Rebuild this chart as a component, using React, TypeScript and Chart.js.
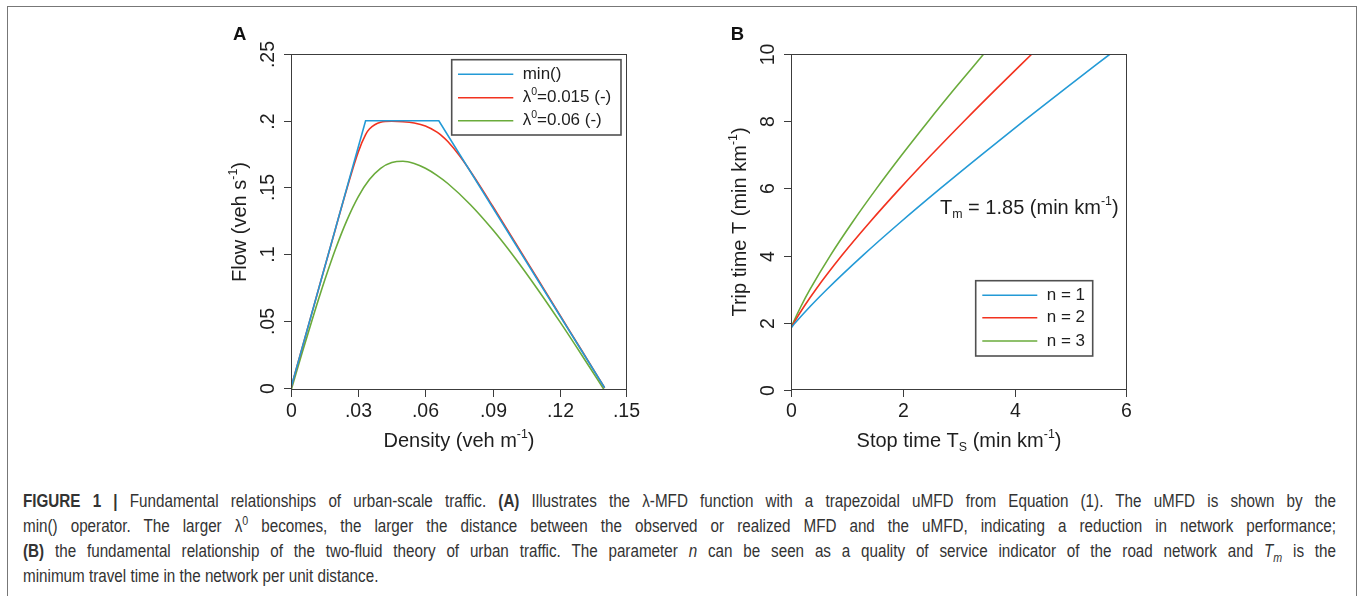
import React, { useEffect, useRef } from 'react';
import { Chart, registerables } from 'chart.js';

Chart.register(...registerables);

// ---------- Panel A data ----------
const densityMin = [0, 0.0333, 0.066, 0.14];
const flowMin = [0, 0.2, 0.2, 0];

const densityLam015 = [0, 0.005, 0.01, 0.015, 0.02, 0.025, 0.03, 0.0333, 0.035, 0.04, 0.045, 0.05, 0.055, 0.06, 0.065, 0.0667, 0.07, 0.075, 0.08, 0.085, 0.09, 0.1, 0.11, 0.12, 0.13, 0.14];
const flowLam015 = [0, 0.03, 0.06, 0.09, 0.1199, 0.1495, 0.1765, 0.1896, 0.1938, 0.1989, 0.1996, 0.1993, 0.1983, 0.1961, 0.1917, 0.1896, 0.1844, 0.1743, 0.1624, 0.1495, 0.1361, 0.1091, 0.0818, 0.0545, 0.0273, 0];

const densityLam06 = [0, 0.005, 0.01, 0.015, 0.02, 0.025, 0.03, 0.035, 0.04, 0.045, 0.05, 0.055, 0.06, 0.065, 0.07, 0.08, 0.09, 0.1, 0.11, 0.12, 0.13, 0.14];
const flowLam06 = [-0.0022, 0.0264, 0.054, 0.0803, 0.1045, 0.1256, 0.143, 0.1559, 0.1644, 0.1687, 0.1697, 0.168, 0.1644, 0.1593, 0.153, 0.1373, 0.1185, 0.0972, 0.074, 0.0495, 0.024, -0.0021];

const legendA = ['min()', 'λ^{0}=0.015 (-)', 'λ^{0}=0.06 (-)'];
const xTicksA = [0, 0.03, 0.06, 0.09, 0.12, 0.15];
const xTickLabelsA = ['0', '.03', '.06', '.09', '.12', '.15'];
const yTicksA = [0, 0.05, 0.1, 0.15, 0.2, 0.25];
const yTickLabelsA = ['0', '.05', '.1', '.15', '.2', '.25'];

// ---------- Panel B data ----------
const tripTime = [1.85, 2, 2.5, 3, 4, 5, 6, 7, 8, 9, 10];
const stopTimeN1 = [0, 0.0765, 0.3495, 0.6442, 1.2798, 1.9587, 2.6684, 3.4015, 4.153, 4.9197, 5.6989];
const stopTimeN2 = [0, 0.0513, 0.2387, 0.4465, 0.9067, 1.4105, 1.9466, 2.5078, 3.0896, 3.6885, 4.302];
const stopTimeN3 = [0, 0.0385, 0.1811, 0.3414, 0.7012, 1.1002, 1.5287, 1.9808, 2.4521, 2.9397, 3.4414];

const legendB = ['n = 1', 'n = 2', 'n = 3'];
const xTicksB = [0, 2, 4, 6];
const xTickLabelsB = ['0', '2', '4', '6'];
const yTicksB = [0, 2, 4, 6, 8, 10];
const yTickLabelsB = ['0', '2', '4', '6', '8', '10'];

const BLUE = '#239ad6';
const RED = '#f2321f';
const GREEN = '#6aab3b';
const FONT = '"Liberation Sans", Arial, Helvetica, sans-serif';

type Seg = { t: string; k: 'n' | 'sup' | 'sub' };

function parseRich(s: string): Seg[] {
  const out: Seg[] = [];
  const re = /([\^_])\{([^}]*)\}/g;
  let last = 0;
  let m: RegExpExecArray | null;
  while ((m = re.exec(s))) {
    if (m.index > last) out.push({ t: s.slice(last, m.index), k: 'n' });
    out.push({ t: m[2], k: m[1] === '^' ? 'sup' : 'sub' });
    last = m.index + m[0].length;
  }
  if (last < s.length) out.push({ t: s.slice(last), k: 'n' });
  return out;
}

function drawRich(ctx: CanvasRenderingContext2D, text: string, x: number, y: number, size: number, align: 'left' | 'center', bold = false) {
  const segs = parseRich(text);
  const w = bold ? 'bold ' : '';
  const parts = segs.map((s) => {
    const sz = s.k === 'n' ? size : size * 0.62;
    ctx.font = `${w}${sz}px ${FONT}`;
    return { ...s, sz, w: ctx.measureText(s.t).width };
  });
  const total = parts.reduce((a, p) => a + p.w, 0);
  let cx = align === 'center' ? x - total / 2 : x;
  ctx.textAlign = 'left';
  ctx.textBaseline = 'middle';
  for (const p of parts) {
    ctx.font = `${w}${p.sz}px ${FONT}`;
    const dy = p.k === 'sup' ? -size * 0.3 : p.k === 'sub' ? size * 0.32 : 0;
    ctx.fillText(p.t, cx, y + dy);
    cx += p.w;
  }
}

type PanelCfg = {
  xMin: number; xMax: number; yMin: number; yMax: number;
  xTicks: number[]; xTickLabels: string[]; yTicks: number[]; yTickLabels: string[];
  xTitle: string; yTitle: string; label: string; labelPos: [number, number];
  legend: { labels: string[]; colors: string[]; box: [number, number, number, number]; lineX: [number, number]; rowsY: number[]; textX: number };
  annotation?: { text: string; x: number; y: number };
};

function decorPlugin(cfg: PanelCfg) {
  return {
    id: 'decor',
    afterDraw(chart: any) {
      const { ctx, chartArea: a, scales } = chart;
      const xs = scales.x;
      const ys = scales.y;
      ctx.save();
      const L = Math.round(a.left), R = Math.round(a.right), T = Math.round(a.top), B = Math.round(a.bottom);
      ctx.strokeStyle = '#3c3c3c';
      ctx.lineWidth = 1;
      ctx.strokeRect(L + 0.5, T + 0.5, R - L - 1, B - T - 1);
      ctx.fillStyle = '#1e1e1e';
      // x ticks
      cfg.xTicks.forEach((v, i) => {
        let px = Math.round(xs.getPixelForValue(v));
        if (px >= R) px = R - 1;
        ctx.beginPath();
        ctx.moveTo(px + 0.5, B);
        ctx.lineTo(px + 0.5, B + 7);
        ctx.stroke();
        drawRich(ctx, cfg.xTickLabels[i], px + 0.5, B + 22, 19.5, 'center');
      });
      // y ticks
      cfg.yTicks.forEach((v, i) => {
        let py = Math.round(ys.getPixelForValue(v));
        if (py < T) py = T;
        ctx.beginPath();
        ctx.moveTo(L - 7, py + 0.5);
        ctx.lineTo(L, py + 0.5);
        ctx.stroke();
        ctx.save();
        ctx.translate(L - 22, py + 0.5);
        ctx.rotate(-Math.PI / 2);
        drawRich(ctx, cfg.yTickLabels[i], 0, 0, 19.5, 'center');
        ctx.restore();
      });
      // titles
      drawRich(ctx, cfg.xTitle, (L + R) / 2, B + 51, 20, 'center');
      ctx.save();
      ctx.translate(L - 51, (T + B) / 2);
      ctx.rotate(-Math.PI / 2);
      drawRich(ctx, cfg.yTitle, 0, 0, 20, 'center');
      ctx.restore();
      // panel label
      ctx.fillStyle = '#111';
      drawRich(ctx, cfg.label, cfg.labelPos[0], cfg.labelPos[1], 18.5, 'center', true);
      // legend
      const lg = cfg.legend;
      ctx.strokeStyle = '#505050';
      ctx.lineWidth = 1.6;
      ctx.strokeRect(lg.box[0], lg.box[1], lg.box[2] - lg.box[0], lg.box[3] - lg.box[1]);
      lg.labels.forEach((lab, i) => {
        ctx.strokeStyle = lg.colors[i];
        ctx.lineWidth = 1.6;
        ctx.beginPath();
        ctx.moveTo(lg.lineX[0], lg.rowsY[i]);
        ctx.lineTo(lg.lineX[1], lg.rowsY[i]);
        ctx.stroke();
        ctx.fillStyle = '#1e1e1e';
        drawRich(ctx, lab, lg.textX, lg.rowsY[i], 17, 'left');
      });
      if (cfg.annotation) {
        ctx.fillStyle = '#1e1e1e';
        drawRich(ctx, cfg.annotation.text, cfg.annotation.x, cfg.annotation.y, 20, 'left');
      }
      ctx.restore();
    },
  };
}

function toPoints(xs: number[], ys: number[]) {
  return xs.map((x, i) => ({ x, y: ys[i] }));
}

function Panel({ left, top, cfg, datasets }: { left: number; top: number; cfg: PanelCfg; datasets: any[] }) {
  const ref = useRef<HTMLCanvasElement>(null);
  useEffect(() => {
    if (!ref.current) return;
    const chart = new Chart(ref.current, {
      type: 'line',
      data: { datasets },
      options: {
        animation: false,
        responsive: false,
        devicePixelRatio: 1,
        layout: { padding: { left: 91, top: 34, right: 23, bottom: 80 } },
        plugins: { legend: { display: false }, tooltip: { enabled: false } },
        elements: { point: { radius: 0 } },
        scales: {
          x: { type: 'linear', min: cfg.xMin, max: cfg.xMax, display: false },
          y: { type: 'linear', min: cfg.yMin, max: cfg.yMax, display: false },
        },
      } as any,
      plugins: [decorPlugin(cfg) as any],
    });
    return () => chart.destroy();
  }, []);
  return <canvas ref={ref} width={450} height={450} style={{ position: 'absolute', left, top, width: 450, height: 450 }} />;
}

const cfgA: PanelCfg = {
  xMin: 0, xMax: 0.15, yMin: -0.0017, yMax: 0.25,
  xTicks: xTicksA, xTickLabels: xTickLabelsA, yTicks: yTicksA, yTickLabels: yTickLabelsA,
  xTitle: 'Density (veh m^{-1})', yTitle: 'Flow (veh s^{-1})', label: 'A', labelPos: [39.7, 15],
  legend: { labels: legendA, colors: [BLUE, RED, GREEN], box: [251.7, 39.7, 421, 115], lineX: [258, 313.3], rowsY: [54.3, 77.7, 100.7], textX: 322.7 },
};

const cfgB: PanelCfg = {
  xMin: 0, xMax: 6, yMin: 0, yMax: 10,
  xTicks: xTicksB, xTickLabels: xTickLabelsB, yTicks: yTicksB, yTickLabels: yTickLabelsB,
  xTitle: 'Stop time T_{S} (min km^{-1})', yTitle: 'Trip time T (min km^{-1})', label: 'B', labelPos: [37.5, 14.5],
  legend: { labels: legendB, colors: [BLUE, RED, GREEN], box: [275.7, 260.7, 392.7, 336], lineX: [282.3, 337.3], rowsY: [275.3, 297.7, 321], textX: 346.7 },
  annotation: { text: 'T_{m} = 1.85 (min km^{-1})', x: 240, y: 188 },
};

const lineBase = { borderWidth: 1.6, pointRadius: 0, fill: false };

const datasetsA = [
  { ...lineBase, label: legendA[0], data: toPoints(densityMin, flowMin), borderColor: BLUE, tension: 0 },
  { ...lineBase, label: legendA[1], data: toPoints(densityLam015, flowLam015), borderColor: RED, cubicInterpolationMode: 'monotone' },
  { ...lineBase, label: legendA[2], data: toPoints(densityLam06, flowLam06), borderColor: GREEN, cubicInterpolationMode: 'monotone' },
];

const datasetsB = [
  { ...lineBase, label: legendB[0], data: toPoints(stopTimeN1, tripTime), borderColor: BLUE, cubicInterpolationMode: 'monotone' },
  { ...lineBase, label: legendB[1], data: toPoints(stopTimeN2, tripTime), borderColor: RED, cubicInterpolationMode: 'monotone' },
  { ...lineBase, label: legendB[2], data: toPoints(stopTimeN3, tripTime), borderColor: GREEN, cubicInterpolationMode: 'monotone' },
];

const CAP_SCALE = 0.87;
const capLine: React.CSSProperties = {
  position: 'absolute', left: 23, width: 1313 / CAP_SCALE, height: 20, lineHeight: '20px',
  fontSize: 17.5, color: '#333', textAlign: 'justify',
  transform: `scaleX(${CAP_SCALE})`, transformOrigin: '0 0',
};
const supStyle: React.CSSProperties = { fontSize: '0.7em', verticalAlign: 'super', lineHeight: 0 };
const subStyle: React.CSSProperties = { fontSize: '0.7em', verticalAlign: 'sub', lineHeight: 0 };

function Justified({ top, children, last }: { top: number; children: React.ReactNode; last?: boolean }) {
  return (
    <div style={{ ...capLine, top, whiteSpace: 'normal', textAlignLast: last ? 'left' : 'justify' } as any}>{children}</div>
  );
}

export default function App() {
  return (
    <div style={{ position: 'absolute', left: 0, top: 0, width: 1358, height: 596, background: '#fff', overflow: 'hidden', fontFamily: FONT }}>
      <div style={{ position: 'absolute', left: 7, top: 6, width: 1348, height: 640, borderTop: '1px solid #777', borderLeft: '1px solid #777', borderRight: '1px solid #777' }} />
      <Panel left={200} top={20} cfg={cfgA} datasets={datasetsA} />
      <Panel left={700} top={20} cfg={cfgB} datasets={datasetsB} />
      <Justified top={491}>
        <b>FIGURE 1 |</b> Fundamental relationships of urban-scale traffic. <b>(A)</b> Illustrates the λ-MFD function with a trapezoidal uMFD from Equation (1). The uMFD is shown by the
      </Justified>
      <Justified top={516}>
        min() operator. The larger λ<sup style={supStyle}>0</sup> becomes, the larger the distance between the observed or realized MFD and the uMFD, indicating a reduction in network performance;
      </Justified>
      <Justified top={541}>
        <b>(B)</b> the fundamental relationship of the two-fluid theory of urban traffic. The parameter <i>n</i> can be seen as a quality of service indicator of the road network and <i>T<sub style={subStyle}>m</sub></i> is the
      </Justified>
      <Justified top={566} last>
        minimum travel time in the network per unit distance.
      </Justified>
    </div>
  );
}
